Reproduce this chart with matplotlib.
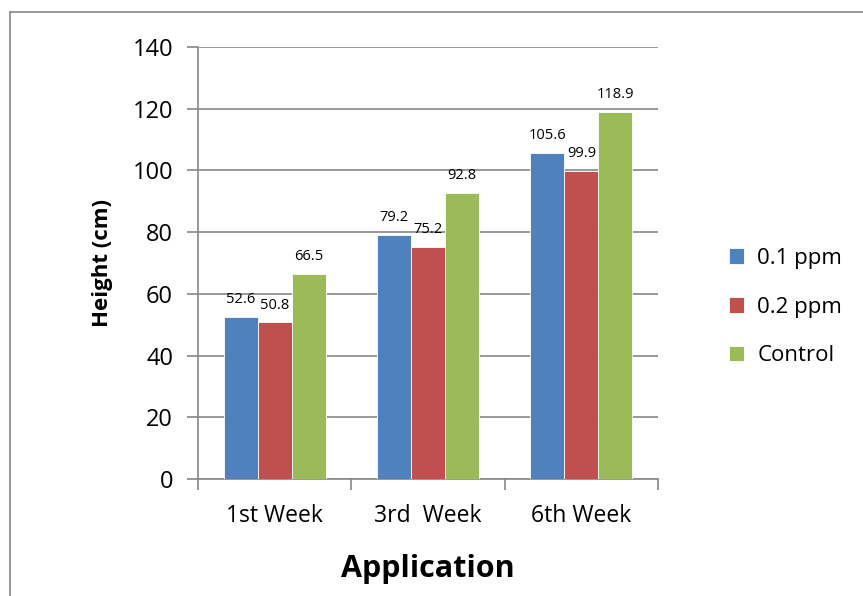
import numpy as np
import matplotlib
matplotlib.use('Agg')
from matplotlib import pyplot as plt
from matplotlib.lines import Line2D

plt.rcParams['font.family'] = ['Open Sans', 'DejaVu Sans']

# chart data
weeks = ['1st Week', '3rd  Week', '6th Week']
series_names = ['0.1 ppm', '0.2 ppm', 'Control']
ppm_01 = [52.6, 79.2, 105.6]
ppm_02 = [50.8, 75.2, 99.9]
control = [66.5, 92.8, 118.9]
colors = ['#4F81BD', '#C0504D', '#9BBB59']

fig = plt.figure(figsize=(8.63, 5.96), dpi=100)
ax = fig.add_axes([198/863, 1 - 479/596, 460/863, 432/596])

x = np.arange(len(weeks))
width = 0.222
for i, (vals, name, c) in enumerate(zip([ppm_01, ppm_02, control], series_names, colors)):
    bars = ax.bar(x + (i - 1) * width, vals, width, color=c, label=name,
                  edgecolor='white', linewidth=0.6, zorder=3)
    ax.bar_label(bars, labels=[f'{v:.1f}' for v in vals], padding=7, fontsize=10.5)

ax.set_xlim(-0.5, 2.5)
ax.set_ylim(0, 140)
ax.set_yticks(range(0, 141, 20))
ax.set_xticks(x)
ax.set_xticklabels(weeks, fontsize=16.5)
ax.tick_params(axis='y', labelsize=17, length=8, width=1.2, color='#888888', pad=10)
ax.tick_params(axis='x', length=0, pad=18)
# category boundary ticks
ax.set_xticks([-0.5, 0.5, 1.5, 2.5], minor=True)
ax.tick_params(axis='x', which='minor', length=8, width=1.2, color='#888888', direction='out')

ax.grid(axis='y', color='#888888', linewidth=1.2, zorder=0)
for s in ['top', 'right']:
    ax.spines[s].set_visible(False)
for s in ['left', 'bottom']:
    ax.spines[s].set_color('#888888')
    ax.spines[s].set_linewidth(1.2)

ax.set_ylabel('Height (cm)', fontsize=16, fontweight='bold', labelpad=14)
ax.set_xlabel('Application', fontsize=22, fontweight='bold', labelpad=19)

leg = ax.legend(loc='center left', bbox_to_anchor=(1.11, 0.398), frameon=False,
                fontsize=16, handlelength=0.7, handleheight=0.7, labelspacing=1.25,
                handletextpad=0.6)

# outer chart frame
fig.add_artist(Line2D([10/863, 10/863], [0, 1 - 12/596], color='#888888', lw=1.2))
fig.add_artist(Line2D([10/863, 1], [1 - 12/596, 1 - 12/596], color='#888888', lw=1.2))

fig.savefig('out.png', dpi=100)
